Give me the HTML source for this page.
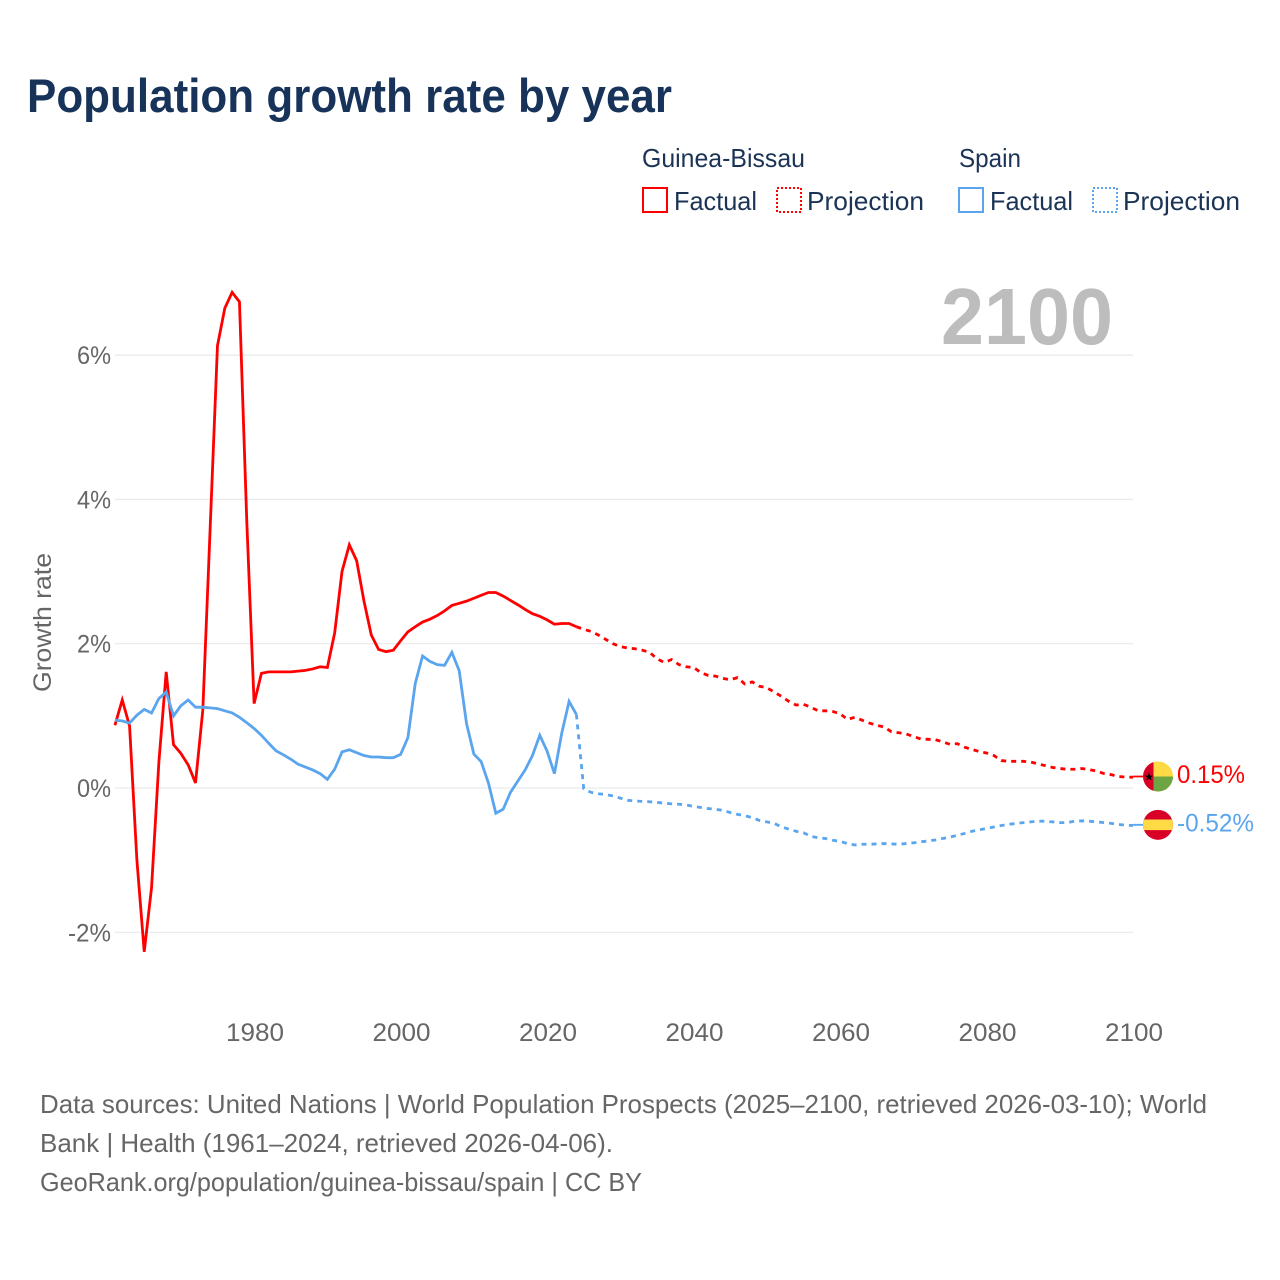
<!DOCTYPE html>
<html lang="en">
<head>
<meta charset="utf-8">
<title>Population growth rate by year</title>
<style>
html,body{margin:0;padding:0;background:#fff;width:1280px;height:1280px;overflow:hidden}
svg{display:block;font-family:"Liberation Sans",sans-serif}
</style>
</head>
<body>
<svg id="chart" xmlns="http://www.w3.org/2000/svg" width="1280" height="1280" viewBox="0 0 1280 1280">
  <rect width="1280" height="1280" fill="#fff"/>
  <text x="27" y="112" font-size="47" font-weight="700" fill="#17335a" textLength="645" lengthAdjust="spacingAndGlyphs">Population growth rate by year</text>

  <g font-size="26" fill="#1b3355">
    <text x="642" y="167" textLength="163" lengthAdjust="spacingAndGlyphs">Guinea-Bissau</text>
    <rect x="643" y="188" width="24" height="24" fill="none" stroke="#ff0000" stroke-width="2"/>
    <text x="674" y="210" textLength="83" lengthAdjust="spacingAndGlyphs">Factual</text>
    <rect x="777" y="188" width="24" height="24" fill="none" stroke="#ff0000" stroke-width="2" stroke-dasharray="2 2"/>
    <text x="807" y="210" textLength="117" lengthAdjust="spacingAndGlyphs">Projection</text>
    <text x="959" y="167" textLength="62" lengthAdjust="spacingAndGlyphs">Spain</text>
    <rect x="959" y="188" width="24" height="24" fill="none" stroke="#5aa5ee" stroke-width="2"/>
    <text x="990" y="210" textLength="83" lengthAdjust="spacingAndGlyphs">Factual</text>
    <rect x="1093" y="188" width="24" height="24" fill="none" stroke="#5aa5ee" stroke-width="2" stroke-dasharray="2 2"/>
    <text x="1123" y="210" textLength="117" lengthAdjust="spacingAndGlyphs">Projection</text>
  </g>

  <g id="grid"></g>
  <g id="yticks"></g>
  <g id="xticks"></g>
  <text transform="translate(51,622.5) rotate(-90)" text-anchor="middle" font-size="25" fill="#666" textLength="139" lengthAdjust="spacingAndGlyphs">Growth rate</text>
  <text x="941" y="344" font-size="80" font-weight="700" fill="#bdbdbd" textLength="172" lengthAdjust="spacingAndGlyphs">2100</text>

  <g id="series"></g>
  <g id="endmarks"></g>

  <g font-size="26" fill="#666">
    <text x="40" y="1113" textLength="1167" lengthAdjust="spacingAndGlyphs">Data sources: United Nations | World Population Prospects (2025–2100, retrieved 2026-03-10); World</text>
    <text x="40" y="1152" textLength="573" lengthAdjust="spacingAndGlyphs">Bank | Health (1961–2024, retrieved 2026-04-06).</text>
    <text x="40" y="1191" textLength="602" lengthAdjust="spacingAndGlyphs">GeoRank.org/population/guinea-bissau/spain | CC BY</text>
  </g>
</svg>

<script>
var xTickYears = [1980, 2000, 2020, 2040, 2060, 2080, 2100];
var yTickValues = [-2, 0, 2, 4, 6];
var factualStartYear = 1961;
var projectionStartYear = 2024;

var guineaFactual = [
  0.87,1.22,0.86,-1.0,-2.27,-1.38,0.36,1.61,0.6,0.48,
  0.32,0.07,1.08,3.6,6.13,6.65,6.87,6.74,3.7,1.17,
  1.59,1.61,1.61,1.61,1.61,1.62,1.63,1.65,1.68,1.67,
  2.15,3.0,3.37,3.15,2.59,2.12,1.92,1.89,1.91,2.04,
  2.165,2.235,2.30,2.34,2.39,2.455,2.53,2.56,2.59,2.63,
  2.67,2.71,2.71,2.66,2.60,2.54,2.475,2.415,2.38,2.33,
  2.27,2.28,2.28,2.235
];
var guineaProjection = [
  2.235,
  2.2,2.17,2.12,2.06,2.0,1.96,1.94,1.93,1.91,1.88,
  1.79,1.74,1.78,1.71,1.68,1.67,1.60,1.56,1.55,1.52,
  1.50,1.53,1.44,1.47,1.41,1.39,1.33,1.27,1.20,1.15,
  1.16,1.12,1.07,1.07,1.06,1.03,0.95,0.98,0.94,0.90,
  0.87,0.845,0.78,0.766,0.75,0.715,0.68,0.675,0.67,0.64,
  0.605,0.615,0.565,0.535,0.505,0.485,0.45,0.38,0.37,0.37,
  0.37,0.36,0.335,0.31,0.285,0.27,0.26,0.26,0.27,0.255,
  0.235,0.2,0.185,0.16,0.15,0.15
];
var spainFactual = [
  0.94,0.93,0.90,1.01,1.09,1.04,1.24,1.33,1.0,1.14,
  1.22,1.12,1.12,1.11,1.10,1.07,1.04,0.98,0.905,0.825,
  0.73,0.62,0.515,0.46,0.40,0.33,0.29,0.25,0.2,0.12,
  0.26,0.5,0.53,0.49,0.45,0.43,0.43,0.42,0.42,0.465,
  0.70,1.45,1.83,1.755,1.71,1.70,1.88,1.625,0.895,0.47,
  0.365,0.065,-0.35,-0.295,-0.06,0.095,0.25,0.45,0.73,0.51,
  0.2,0.76,1.2,1.02
];
var spainProjection = [
  1.02,
  -0.01,-0.06,-0.08,-0.09,-0.11,-0.14,-0.17,-0.18,-0.185,-0.19,
  -0.2,-0.21,-0.22,-0.225,-0.235,-0.255,-0.27,-0.285,-0.295,-0.31,
  -0.34,-0.365,-0.385,-0.41,-0.45,-0.47,-0.49,-0.54,-0.57,-0.6,
  -0.62,-0.67,-0.69,-0.7,-0.725,-0.74,-0.77,-0.79,-0.78,-0.78,
  -0.775,-0.77,-0.775,-0.78,-0.77,-0.76,-0.745,-0.735,-0.72,-0.70,
  -0.68,-0.655,-0.63,-0.60,-0.58,-0.56,-0.54,-0.52,-0.505,-0.49,
  -0.48,-0.47,-0.46,-0.46,-0.47,-0.48,-0.48,-0.46,-0.455,-0.46,
  -0.47,-0.48,-0.49,-0.505,-0.515,-0.52
];

var NS = 'http://www.w3.org/2000/svg';
var RED = '#ff0000';
var BLUE = '#5aa5ee';

function xScale(year) { return 254.1 + (year - 1980) * 7.325; }
function yScale(value) { return 788 - value * 72.15; }

function make(tag, parent, attrs, text) {
  var el = document.createElementNS(NS, tag);
  for (var k in attrs) el.setAttribute(k, attrs[k]);
  if (text !== undefined) el.textContent = text;
  parent.appendChild(el);
  return el;
}
function textWidth(s) {
  var w = 0;
  for (var i = 0; i < s.length; i++) {
    var c = s.charAt(i);
    w += c === '%' ? 19.5 : c === '-' ? 9 : c === '.' ? 5 : 14.5;
  }
  return w;
}
function linePoints(values, startYear) {
  return values.map(function (v, i) {
    return xScale(startYear + i).toFixed(2) + ',' + yScale(v).toFixed(2);
  }).join(' ');
}

var gridG = document.getElementById('grid');
var yTickG = document.getElementById('yticks');
var xTickG = document.getElementById('xticks');
var seriesG = document.getElementById('series');
var endG = document.getElementById('endmarks');

yTickValues.forEach(function (v) {
  var line = make('line', gridG, {x1: 115, x2: 1133, y1: yScale(v), y2: yScale(v), stroke: '#e9e9e9', 'stroke-width': 1.2});
  
  
  var s = v + '%';
  var t = make('text', yTickG, {x: 111 - textWidth(s), y: yScale(v) + 9, 'font-size': 25, fill: '#666', textLength: textWidth(s), lengthAdjust: 'spacingAndGlyphs'}, s);
  
  
});

xTickYears.forEach(function (yr) {
  var s = String(yr);
  var t = make('text', xTickG, {x: xScale(yr) + 0.9 - textWidth(s) / 2, y: 1041, 'font-size': 25, fill: '#666', textLength: textWidth(s), lengthAdjust: 'spacingAndGlyphs'}, s);
  
  
});

var lineBase = {fill: 'none', 'stroke-width': 2.8, 'stroke-linejoin': 'miter'};
function addLine(values, startYear, color, dashed) {
  var a = {points: linePoints(values, startYear), stroke: color};
  for (var k in lineBase) a[k] = lineBase[k];
  if (dashed) a['stroke-dasharray'] = '5 5';
  return make('polyline', seriesG, a);
}

var l4 = addLine(spainProjection, projectionStartYear, BLUE, true);


var l2 = addLine(guineaProjection, projectionStartYear, RED, true);


var l1 = addLine(guineaFactual, factualStartYear, RED, false);


var l3 = addLine(spainFactual, factualStartYear, BLUE, false);



var FX = 1158, FR = 15;

function endLabel(value, color) {
  var s = value.toFixed(2) + '%';
  var y = yScale(value);
  return make('text', endG, {x: 1177, y: y + 6, 'font-size': 25, fill: color, textLength: textWidth(s), lengthAdjust: 'spacingAndGlyphs'}, s);
}
function connector(value, color) {
  var y = yScale(value) - 0.7;
  return make('line', endG, {x1: xScale(2100), x2: FX, y1: y, y2: y, stroke: color, 'stroke-width': 1.8});
}

var gv = guineaProjection[guineaProjection.length - 1];
var sv = spainProjection[spainProjection.length - 1];

var c1 = connector(gv, RED);


var c2 = connector(sv, BLUE);



/* Guinea-Bissau flag */
var gy = yScale(gv) - 0.7;
var gFlag = make('g', endG, {transform: 'translate(' + FX + ',' + gy + ')'});


make('circle', gFlag, {r: FR, fill: '#ffda44'});
make('path', gFlag, {d: 'M-4.5 0H15A15 15 0 0 1 -4.5 14.3Z', fill: '#6da544'});
make('path', gFlag, {d: 'M-4.5 -14.3A15 15 0 0 0 -4.5 14.3Z', fill: '#d80027'});
make('polygon', gFlag, {points: '-9,-4 -7.9,-0.9 -4.7,-0.9 -7.3,1 -6.3,4 -9,2.2 -11.7,4 -10.7,1 -13.3,-0.9 -10.1,-0.9', fill: '#000'});

/* Spain flag */
var sy = yScale(sv) - 0.7;
var sFlag = make('g', endG, {transform: 'translate(' + FX + ',' + sy + ')'});


make('circle', sFlag, {r: FR, fill: '#d80027'});
make('path', sFlag, {d: 'M-14 -5.3H14A15 15 0 0 1 14 5.3H-14A15 15 0 0 1 -14 -5.3Z', fill: '#ffda44'});

var t1 = endLabel(gv, RED);


var t2 = endLabel(sv, BLUE);


</script>
</body>
</html>
